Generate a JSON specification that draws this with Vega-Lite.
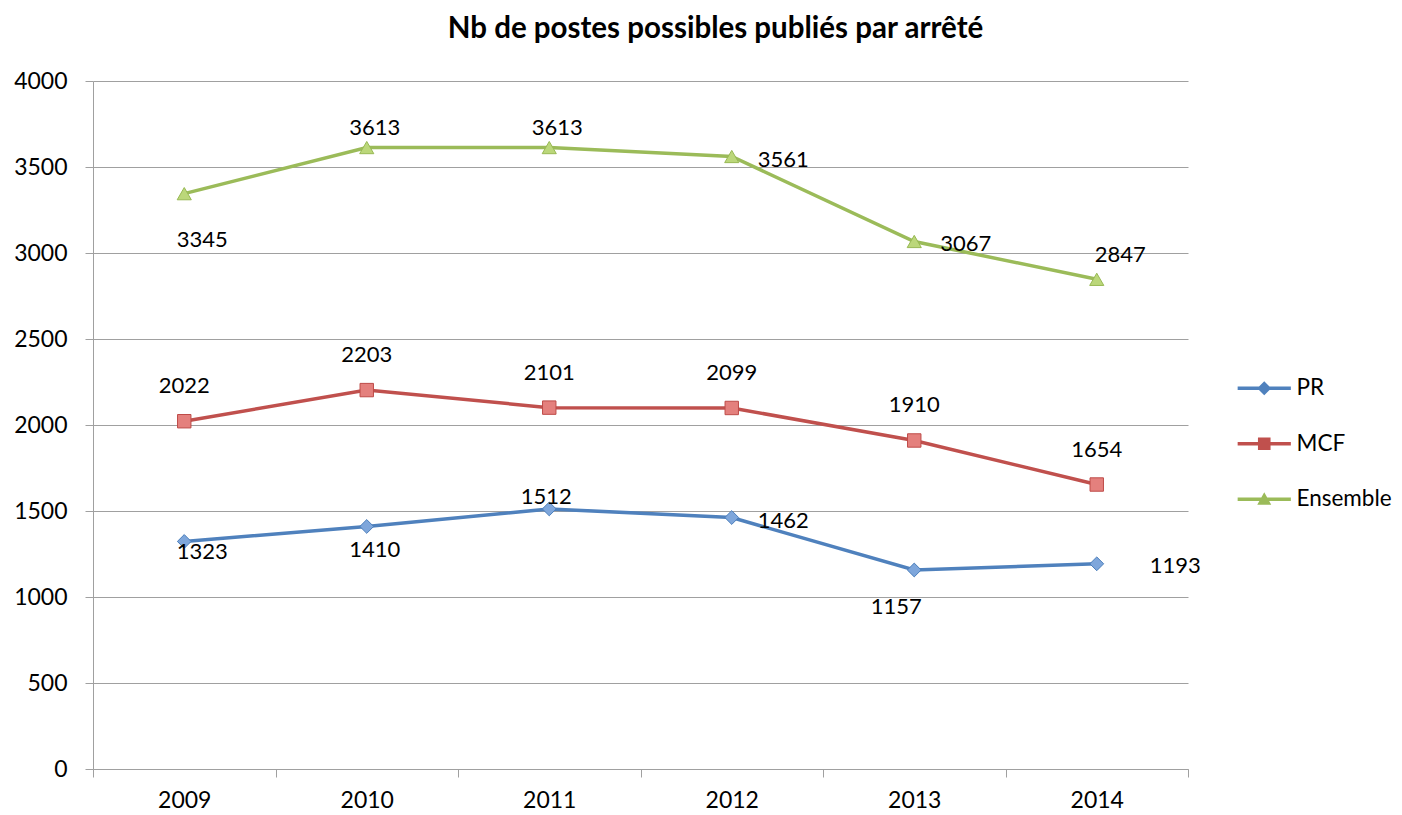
{
  "$schema": "https://vega.github.io/schema/vega-lite/v6.json",
  "width": 1095,
  "height": 688,
  "autosize": {"type": "none"},
  "padding": {"left": 93, "top": 81, "right": 214, "bottom": 46},
  "background": "white",
  "config": {
    "font": "Lato",
    "view": {"stroke": null},
    "text": {"font": "Lato", "fontSize": 22, "color": "black", "baseline": "middle"}
  },
  "title": {
    "text": "Nb de postes possibles publiés par arrêté",
    "fontSize": 29.5,
    "fontWeight": "bold",
    "font": "Lato",
    "color": "black",
    "anchor": "middle",
    "baseline": "alphabetic",
    "dx": 75,
    "offset": 3
  },
  "data": {
    "values": [
      {"year": "2009", "series": "PR", "value": 1323},
      {"year": "2010", "series": "PR", "value": 1410},
      {"year": "2011", "series": "PR", "value": 1512},
      {"year": "2012", "series": "PR", "value": 1462},
      {"year": "2013", "series": "PR", "value": 1157},
      {"year": "2014", "series": "PR", "value": 1193},
      {"year": "2009", "series": "MCF", "value": 2022},
      {"year": "2010", "series": "MCF", "value": 2203},
      {"year": "2011", "series": "MCF", "value": 2101},
      {"year": "2012", "series": "MCF", "value": 2099},
      {"year": "2013", "series": "MCF", "value": 1910},
      {"year": "2014", "series": "MCF", "value": 1654},
      {"year": "2009", "series": "Ensemble", "value": 3345},
      {"year": "2010", "series": "Ensemble", "value": 3613},
      {"year": "2011", "series": "Ensemble", "value": 3613},
      {"year": "2012", "series": "Ensemble", "value": 3561},
      {"year": "2013", "series": "Ensemble", "value": 3067},
      {"year": "2014", "series": "Ensemble", "value": 2847}
    ]
  },
  "encoding": {
    "x": {
      "field": "year",
      "type": "ordinal",
      "scale": {"type": "band", "paddingInner": 0, "paddingOuter": 0},
      "axis": {
        "title": null,
        "labelAngle": 0,
        "tickBand": "extent",
        "tickSize": 8,
        "labelPadding": 12,
        "labelFontSize": 23,
        "labelColor": "black",
        "labelFont": "Lato",
        "domainColor": "#a0a0a0",
        "tickColor": "#a0a0a0",
        "grid": false
      }
    },
    "y": {
      "field": "value",
      "type": "quantitative",
      "scale": {"domain": [0, 4000], "nice": false},
      "axis": {
        "title": null,
        "format": "d",
        "values": [0, 500, 1000, 1500, 2000, 2500, 3000, 3500, 4000],
        "tickSize": 8,
        "labelPadding": 18,
        "labelFontSize": 23,
        "labelColor": "black",
        "labelFont": "Lato",
        "gridColor": "#a0a0a0",
        "domainColor": "#a0a0a0",
        "tickColor": "#a0a0a0"
      }
    }
  },
  "layer": [
    {
      "mark": {"type": "line", "strokeWidth": 3.5},
      "encoding": {
        "color": {
          "field": "series",
          "type": "nominal",
          "scale": {"domain": ["PR", "MCF", "Ensemble"], "range": ["#4F81BD", "#C0504D", "#9BBB59"]},
          "legend": {
            "title": null,
            "orient": "none",
            "legendX": 1160,
            "legendY": 296,
            "padding": 0,
            "symbolSize": 196,
            "labelFontSize": 22.5,
            "labelFont": "Lato",
            "labelColor": "black",
            "labelOffset": 21,
            "rowPadding": 32.5,
            "encoding": {
              "symbols": {
                "shape": {"value": {"expr": "datum.value === 'PR' ? 'M-3.8,-0.25H3.8V0.25H-3.8Z M0,-1L1,0L0,1L-1,0Z' : (datum.value === 'MCF' ? 'M-3.8,-0.25H3.8V0.25H-3.8Z M-0.9,-0.9H0.9V0.9H-0.9Z' : 'M-3.8,-0.25H3.8V0.25H-3.8Z M0,-1L1,0.8H-1Z')"}},
                "fill": {"value": {"expr": "datum.value === 'PR' ? '#4F81BD' : (datum.value === 'MCF' ? '#C0504D' : '#9BBB59')"}},
                "size": {"value": 196},
                "stroke": {"value": "transparent"},
                "strokeWidth": {"value": 0},
                "opacity": {"value": 1}
              }
            }
          }
        }
      }
    },
    {
      "transform": [{"filter": "datum.series === 'PR'"}],
      "mark": {"type": "point", "shape": "diamond", "filled": true, "size": 190, "fill": "#7EA6DB", "stroke": "#4A7EBB", "strokeWidth": 1, "opacity": 1}
    },
    {
      "transform": [{"filter": "datum.series === 'MCF'"}],
      "mark": {"type": "point", "shape": "square", "filled": true, "size": 180, "fill": "#E4807D", "stroke": "#BE4B48", "strokeWidth": 1, "opacity": 1}
    },
    {
      "transform": [{"filter": "datum.series === 'Ensemble'"}],
      "mark": {"type": "point", "shape": "triangle-up", "filled": true, "size": 200, "fill": "#BBD77A", "stroke": "#98B954", "strokeWidth": 1, "opacity": 1}
    },
    {
      "transform": [{"filter": "datum.series === 'MCF'"}],
      "mark": {"type": "text", "align": "center", "dy": -35},
      "encoding": {"text": {"field": "value", "type": "quantitative"}}
    },
    {
      "transform": [{"filter": "datum.series === 'Ensemble' && datum.year === '2009'"}],
      "mark": {"type": "text", "align": "center", "dx": 18, "dy": 46},
      "encoding": {"text": {"field": "value", "type": "quantitative"}}
    },
    {
      "transform": [{"filter": "datum.series === 'Ensemble' && (datum.year === '2010' || datum.year === '2011')"}],
      "mark": {"type": "text", "align": "center", "dx": 8, "dy": -20},
      "encoding": {"text": {"field": "value", "type": "quantitative"}}
    },
    {
      "transform": [{"filter": "(datum.series === 'Ensemble' && (datum.year === '2012' || datum.year === '2013')) || (datum.series === 'PR' && datum.year === '2012')"}],
      "mark": {"type": "text", "align": "left", "dx": 26, "dy": 3},
      "encoding": {"text": {"field": "value", "type": "quantitative"}}
    },
    {
      "transform": [{"filter": "datum.series === 'Ensemble' && datum.year === '2014'"}],
      "mark": {"type": "text", "align": "left", "dx": -2, "dy": -24},
      "encoding": {"text": {"field": "value", "type": "quantitative"}}
    },
    {
      "transform": [{"filter": "datum.series === 'PR' && datum.year === '2009'"}],
      "mark": {"type": "text", "align": "center", "dx": 18, "dy": 11},
      "encoding": {"text": {"field": "value", "type": "quantitative"}}
    },
    {
      "transform": [{"filter": "datum.series === 'PR' && datum.year === '2010'"}],
      "mark": {"type": "text", "align": "center", "dx": 8, "dy": 24},
      "encoding": {"text": {"field": "value", "type": "quantitative"}}
    },
    {
      "transform": [{"filter": "datum.series === 'PR' && datum.year === '2011'"}],
      "mark": {"type": "text", "align": "center", "dx": -3, "dy": -12},
      "encoding": {"text": {"field": "value", "type": "quantitative"}}
    },
    {
      "transform": [{"filter": "datum.series === 'PR' && datum.year === '2013'"}],
      "mark": {"type": "text", "align": "center", "dx": -18, "dy": 37},
      "encoding": {"text": {"field": "value", "type": "quantitative"}}
    },
    {
      "transform": [{"filter": "datum.series === 'PR' && datum.year === '2014'"}],
      "mark": {"type": "text", "align": "left", "dx": 53, "dy": 2},
      "encoding": {"text": {"field": "value", "type": "quantitative"}}
    }
  ]
}
